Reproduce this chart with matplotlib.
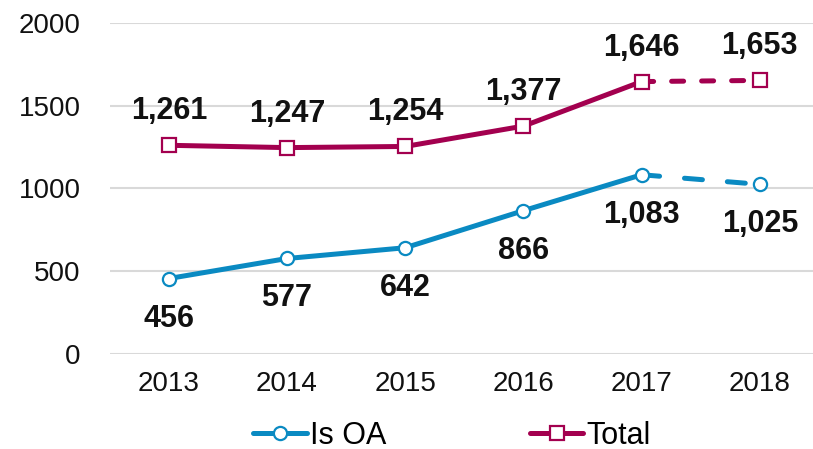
import matplotlib
matplotlib.use("Agg")
import matplotlib.pyplot as plt
from matplotlib.lines import Line2D

plt.rcParams['font.family'] = ['Liberation Sans', 'DejaVu Sans']

years = ["2013", "2014", "2015", "2016", "2017", "2018"]
is_oa = [456, 577, 642, 866, 1083, 1025]
total = [1261, 1247, 1254, 1377, 1646, 1653]
yticks = [0, 500, 1000, 1500, 2000]

blue = "#0A8AC2"
red = "#A3004F"

fig = plt.figure(figsize=(8.13, 4.49), dpi=100)
ax = fig.add_axes([0.135, 0.2116, 0.865, 0.7372])
x = list(range(len(years)))

def draw(vals, color, marker, ms, dash):
    ax.plot(x[:5], vals[:5], color=color, lw=3.6, zorder=3, solid_capstyle='round')
    ax.plot(x[4:], vals[4:], color=color, lw=3.6, ls=(0, dash), dash_capstyle='round', zorder=3)
    ax.plot(x, vals, ls='none', marker=marker, ms=ms, mfc='white', mec=color, mew=1.6, zorder=4)

draw(is_oa, blue, 'o', 9.5, (3.6, 5.0))
draw(total, red, 's', 10, (2.4, 3.6))

for i, v in enumerate(total):
    ax.annotate(f"{v:,}", (i, v), xytext=(0, 26), textcoords='offset pixels',
                ha='center', va='baseline', fontsize=22, fontweight='bold', color='#111111')
for i, v in enumerate(is_oa):
    ax.annotate(f"{v:,}", (i, v), xytext=(0, -48), textcoords='offset pixels',
                ha='center', va='baseline', fontsize=22, fontweight='bold', color='#111111')

ax.set_xlim(-0.5, 5.45)
ax.set_ylim(0, 2000)
ax.set_xticks(x)
ax.set_xticklabels(years)
ax.set_yticks(yticks)
ax.set_yticklabels([str(t) for t in yticks])
ax.tick_params(axis='both', length=0, labelsize=20, colors='#111111')
ax.tick_params(axis='x', pad=12)
ax.tick_params(axis='y', pad=21)
for s in ax.spines.values():
    s.set_visible(False)
ax.grid(axis='y', color='#D9D9D9', lw=1.5)
ax.set_axisbelow(True)

handles = [
    Line2D([], [], color=blue, lw=3.6, marker='o', ms=9.5, mfc='white', mec=blue, mew=1.6,
           solid_capstyle='round'),
    Line2D([], [], color=red, lw=3.6, marker='s', ms=10, mfc='white', mec=red, mew=1.6,
           solid_capstyle='round'),
]
fig.legend(handles, ["Is OA", "Total"], loc='center', bbox_to_anchor=(0.556, 0.03),
           ncol=2, frameon=False, fontsize=22, handlelength=1.75, handletextpad=0.1,
           columnspacing=4.7, borderpad=0)

fig.savefig("out.png", dpi=100)
